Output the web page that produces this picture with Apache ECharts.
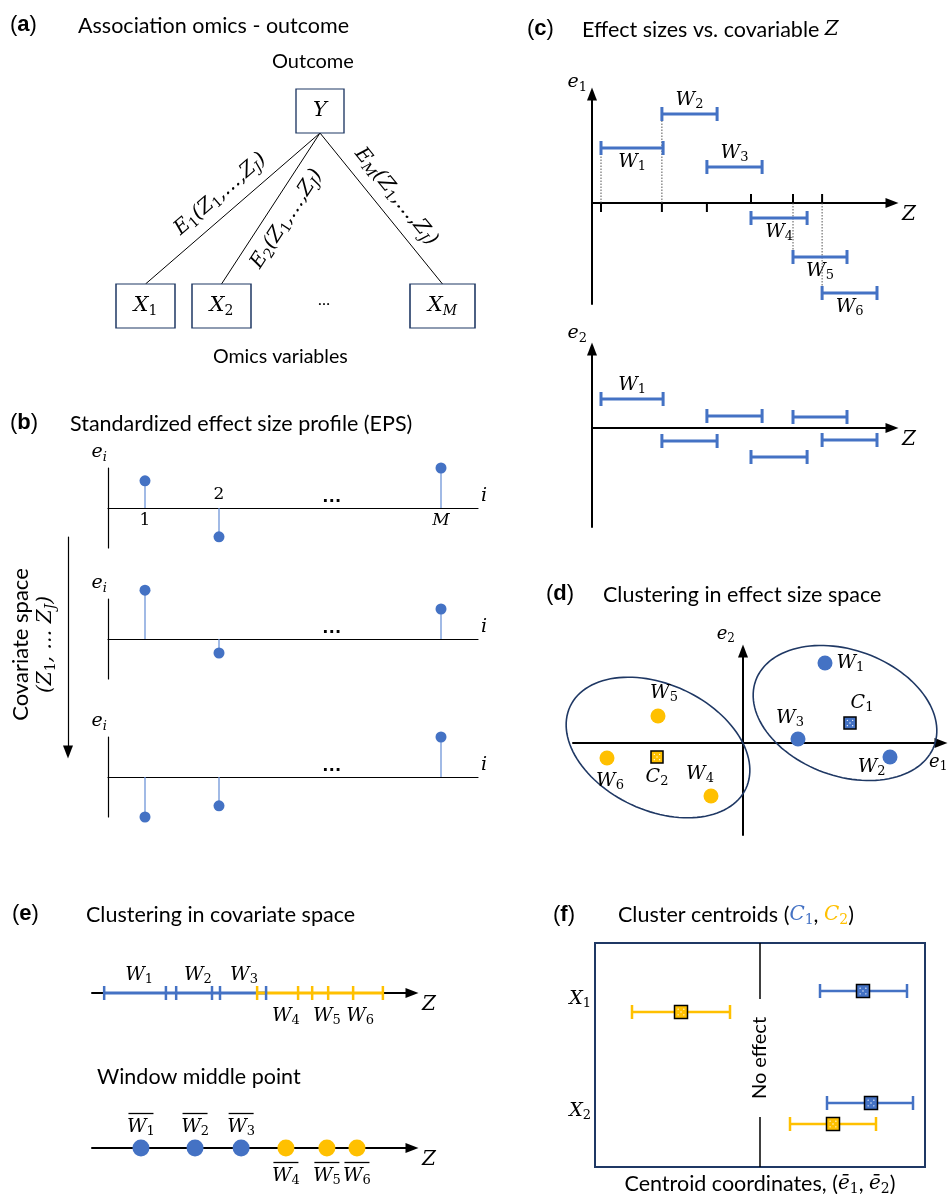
<!DOCTYPE html>
<html>
<head>
<meta charset="utf-8">
<title>EPS clustering schematic</title>
<script src="https://cdn.jsdelivr.net/npm/echarts@6/dist/echarts.min.js"></script>
<style>
  html, body { margin: 0; padding: 0; background: #ffffff; }
  #chart { width: 951px; height: 1194px; }
</style>
</head>
<body>
<div id="chart"></div>
<script>
const BLUE = '#4472C4';
const STEM = '#6F95D8';
const YELLOW = '#FFC000';
const NAVY = '#1F3864';
const SANS = 'Lato, "Open Sans", sans-serif';
const SERIF = '"DejaVu Serif", serif';
const HEAD = '"Liberation Sans", Arial, sans-serif';
const TITLE_SIZE = 21.5;

// (a) association tree: outcome Y on top, omics variables below (layout units)
const treeNodes = ['Y', 'X1', 'X2', 'XM'];
const treeX = [4.4, 0.91, 2.43, 6.85];
const treeY = [4.38, 0.48, 0.48, 0.48];
const treeEdges = ['E1', 'E2', 'EM'];

// (b) effect size profile e_i at three points of covariate space
const epsIndex = [1, 3, 9];
const epsTicks = ['1', '2', 'M'];
const epsProfile1 = [0.68, -0.72, 1.0];
const epsProfile2 = [1.22, -0.35, 0.75];
const epsProfile3 = [-1.0, -0.72, 1.0];
const epsDotsAt = 6.05;

// (c) sliding windows along Z and their effect sizes
const winNames = ['W1', 'W2', 'W3', 'W4', 'W5', 'W6'];
const winStart = [0.3, 2.33, 3.83, 5.3, 6.7, 7.67];
const winEnd = [2.37, 4.17, 5.67, 7.17, 8.5, 9.5];
const winE1 = [1.1, 1.78, 0.72, -0.3, -1.08, -1.8];
const winE2 = [0.58, -0.26, 0.24, -0.58, 0.22, -0.24];
const winGuide = [1, 1, 0, 0, 1, 1];

// (d) windows in effect size space
const winCluster = [0, 0, 0, 1, 1, 1];
const spaceE1 = [1.64, 2.94, 1.1, -0.64, -1.7, -2.72];
const spaceE2 = [1.6, -0.28, 0.08, -1.06, 0.54, -0.3];
const centroidNames = ['C1', 'C2'];
const centroidE1 = [2.14, -1.72];
const centroidE2 = [0.4, -0.28];
const clusterCx = [2.04, -1.7];
const clusterCy = [0.6, -0.09];
const clusterRx = [1.9, 1.94];
const clusterRy = [1.26, 1.26];
const clusterTilt = [-20, -25];

// (e) windows on the covariate axis
const zTicksC1 = [0.38, 2.31, 2.63, 3.75, 4.0, 5.44];
const zTicksC2 = [5.16, 6.44, 6.88, 7.38, 8.16, 9.09];
const zLabelAt = [1.47, 3.31, 4.75, 6.06, 7.34, 8.38];
const zMiddle = [1.53, 3.22, 4.66, 6.06, 7.34, 8.28];

// (f) cluster centroids per omics variable
const centroidRows = ['X1', 'X2'];
const c1Mean = [2.06, 2.22];
const c1Low = [1.2, 1.34];
const c1High = [2.94, 3.06];
const c2Mean = [-1.58, 1.46];
const c2Low = [-2.56, 0.6];
const c2High = [-0.6, 2.32];

// rich text styles for math symbols with subscripts
function mathRich(size, color, textSize) {
  const c = color || '#000';
  const s = Math.round(size * 0.68);
  const ts = textSize || size;
  return {
    m: { fontFamily: SERIF, fontStyle: 'italic', fontSize: size, color: c, lineHeight: size + 4 },
    r: { fontFamily: SERIF, fontSize: size, color: c, lineHeight: size + 4 },
    s: { fontFamily: SERIF, fontSize: s, color: c, lineHeight: s, verticalAlign: 'bottom' },
    si: { fontFamily: SERIF, fontStyle: 'italic', fontSize: s, color: c, lineHeight: s, verticalAlign: 'bottom' },
    t: { fontFamily: SANS, fontSize: ts, color: c, lineHeight: ts + 4 },
    bar: { width: Math.round(size * 1.3), height: 1.3, fontSize: 1, lineHeight: 4, backgroundColor: c }
  };
}
// 'W1' -> W with subscript 1, 'XM' -> X with italic subscript M
function sym(name) {
  const base = name[0], sub = name.slice(1);
  if (!sub) return '{m|' + base + '}';
  return '{m|' + base + '}{' + (/\d/.test(sub) ? 's' : 'si') + '|' + sub + '}';
}
function edgeText(name) {
  return sym(name) + '{m|(Z}{s|1}{m|,…,Z}{si|J}{m|)}';
}

function axis(gridIndex, min, max, extra) {
  return Object.assign({
    type: 'value', gridIndex: gridIndex, min: min, max: max,
    axisLine: { show: false }, axisTick: { show: false },
    axisLabel: { show: false }, splitLine: { show: false }
  }, extra || {});
}
function arrowLine(width) {
  return { show: true, onZero: true, symbol: ['none', 'triangle'], symbolSize: [10, 13],
    lineStyle: { color: '#000', width: width } };
}
const plainLine = { show: true, onZero: true, lineStyle: { color: '#000', width: 1.2 } };
const hidden = { symbolSize: 1, itemStyle: { color: 'rgba(0,0,0,0)', opacity: 1 }, silent: true };

const grids = [
  { left: 100, top: 80, width: 400, height: 250 },   // 0 (a)
  { left: 108, top: 468, width: 370, height: 80 },   // 1 (b) profile 1
  { left: 108, top: 599, width: 370, height: 80 },   // 2 (b) profile 2
  { left: 108, top: 737, width: 370, height: 80 },   // 3 (b) profile 3
  { left: 68, top: 537, width: 1, height: 215 },     // 4 covariate arrow
  { left: 592, top: 94, width: 300, height: 210 },   // 5 (c) e1
  { left: 592, top: 349, width: 300, height: 178 },  // 6 (c) e2
  { left: 573, top: 651, width: 368, height: 184 },  // 7 (d)
  { left: 92, top: 960, width: 320, height: 66 },    // 8 (e) windows
  { left: 92, top: 1115, width: 320, height: 66 },   // 9 (e) middle points
  { left: 595, top: 943, width: 330, height: 224, show: true, borderColor: NAVY, borderWidth: 2 } // 10 (f)
];
grids.forEach(g => { g.outerBoundsMode = 'none'; });

const zName = { name: '{m|Z}', nameGap: 10, nameTextStyle: { rich: mathRich(20), verticalAlign: 'top' } };
const iName = { name: '{m|i}', nameGap: 3, nameTextStyle: { rich: mathRich(19), verticalAlign: 'bottom' } };
const eiName = { name: sym('ei'), nameGap: 4, nameTextStyle: { rich: mathRich(19), align: 'right', padding: [0, 1, 0, 0] } };

const xAxes = [
  axis(0, 0, 8),
  axis(1, 0, 10, Object.assign({ axisLine: plainLine }, iName)),
  axis(2, 0, 10, Object.assign({ axisLine: plainLine }, iName)),
  axis(3, 0, 10, Object.assign({ axisLine: plainLine }, iName)),
  axis(4, 0, 1),
  axis(5, 0, 10, Object.assign({ axisLine: arrowLine(2) }, zName)),
  axis(6, 0, 10, Object.assign({ axisLine: arrowLine(2) }, zName)),
  axis(7, -3.4, 3.96, { axisLine: arrowLine(2), name: sym('e1'), nameGap: -12,
    nameTextStyle: { rich: mathRich(18), verticalAlign: 'top', padding: [8, 0, 0, 0] } }),
  axis(8, 0, 10, Object.assign({ axisLine: arrowLine(2) }, zName)),
  axis(9, 0, 10, Object.assign({ axisLine: arrowLine(2) }, zName)),
  axis(10, -3.3, 3.3, { name: '{t|Centroid coordinates, (}{m|ē}{s|1}{t|, }{m|ē}{s|2}{t|)}',
    nameLocation: 'middle', nameGap: 4, nameTextStyle: { rich: mathRich(20, '#000', TITLE_SIZE) } })
];

const yAxes = [
  axis(0, 0, 5),
  axis(1, -1, 1, Object.assign({ axisLine: plainLine }, eiName)),
  axis(2, -1, 1, Object.assign({ axisLine: plainLine }, eiName)),
  axis(3, -1, 1, Object.assign({ axisLine: plainLine }, eiName)),
  axis(4, 0, 1, { axisLine: { show: true, symbol: ['triangle', 'none'], symbolSize: [10, 13],
      lineStyle: { color: '#000', width: 1.2 } },
    name: '{t|Covariate space}\n{m|(Z}{s|1}{m|, … Z}{si|J}{m|)}', nameLocation: 'middle',
    nameRotate: 90, nameGap: 10, nameTextStyle: { rich: mathRich(20, '#000', 22) } }),
  axis(5, -2.02, 2.18, { axisLine: arrowLine(2), name: sym('e1'), nameGap: 0,
    nameTextStyle: { rich: mathRich(19), align: 'right', padding: [0, 5, 0, 0] } }),
  axis(6, -1.98, 1.58, { axisLine: arrowLine(2), name: sym('e2'), nameGap: 4,
    nameTextStyle: { rich: mathRich(19), align: 'right', padding: [0, 5, 0, 0] } }),
  axis(7, -1.84, 1.84, { axisLine: arrowLine(2), name: sym('e2'), nameGap: 6,
    nameTextStyle: { rich: mathRich(18), align: 'right', padding: [0, 8, 0, 0] } }),
  axis(8, -1, 1),
  axis(9, -1, 1),
  { type: 'category', gridIndex: 10, data: centroidRows, inverse: true,
    axisLine: { show: false }, axisTick: { show: false }, splitLine: { show: false },
    axisLabel: { formatter: v => sym(v), rich: mathRich(19), margin: 4 } }
];

function squareShapes(cx, cy, size, fill) {
  const h = size / 2;
  const kids = [{ type: 'rect', shape: { x: cx - h, y: cy - h, width: size, height: size },
    style: { fill: fill, stroke: '#000', lineWidth: 1.5 } }];
  [[-0.22, -0.22], [0.22, -0.22], [-0.22, 0.22], [0.22, 0.22], [0, 0]].forEach(d => {
    kids.push({ type: 'circle', shape: { cx: cx + d[0] * size, cy: cy + d[1] * size, r: 0.7 },
      style: { fill: '#ffffff' } });
  });
  return kids;
}

function intervalRender(color, width, cap) {
  return function (params, api) {
    const y = api.value(2);
    const a = api.coord([api.value(0), y]);
    const b = api.coord([api.value(1), y]);
    return { type: 'group', children: [
      { type: 'line', shape: { x1: a[0], y1: a[1], x2: b[0], y2: b[1] }, style: { stroke: color, lineWidth: width } },
      { type: 'line', shape: { x1: a[0], y1: a[1] - cap, x2: a[0], y2: a[1] + cap }, style: { stroke: color, lineWidth: width } },
      { type: 'line', shape: { x1: b[0], y1: b[1] - cap, x2: b[0], y2: b[1] + cap }, style: { stroke: color, lineWidth: width } }
    ] };
  };
}

function stemRender(params, api) {
  const base = api.coord([api.value(0), 0]);
  const tip = api.coord([api.value(0), api.value(1)]);
  return { type: 'group', children: [
    { type: 'line', shape: { x1: base[0], y1: base[1], x2: tip[0], y2: tip[1] }, style: { stroke: STEM, lineWidth: 1.3 } },
    { type: 'circle', shape: { cx: tip[0], cy: tip[1], r: 5.5 }, style: { fill: BLUE } }
  ] };
}

function ellipseRender(params, api) {
  const c = api.coord([api.value(0), api.value(1)]);
  const r = api.size([api.value(2), api.value(3)]);
  const t = api.value(4) * Math.PI / 180;
  const pts = [];
  for (let k = 0; k < 120; k++) {
    const a = k / 120 * 2 * Math.PI;
    const ex = r[0] * Math.cos(a), ey = r[1] * Math.sin(a);
    pts.push([c[0] + ex * Math.cos(t) - ey * Math.sin(t), c[1] - ex * Math.sin(t) - ey * Math.cos(t)]);
  }
  return { type: 'polygon', shape: { points: pts }, style: { fill: 'none', stroke: NAVY, lineWidth: 1.6 } };
}

function errorRender(color, shift) {
  return function (params, api) {
    const row = api.value(3);
    const m = api.coord([api.value(0), row]);
    const lo = api.coord([api.value(1), row]);
    const hi = api.coord([api.value(2), row]);
    const y = m[1] + shift;
    return { type: 'group', children: [
      { type: 'line', shape: { x1: lo[0], y1: y, x2: hi[0], y2: y }, style: { stroke: color, lineWidth: 2.5 } },
      { type: 'line', shape: { x1: lo[0], y1: y - 7, x2: lo[0], y2: y + 7 }, style: { stroke: color, lineWidth: 2.5 } },
      { type: 'line', shape: { x1: hi[0], y1: y - 7, x2: hi[0], y2: y + 7 }, style: { stroke: color, lineWidth: 2.5 } }
    ].concat(squareShapes(m[0], y, 13, color)) };
  };
}

const series = [];

// ---- (a) ----
series.push({
  type: 'lines', coordinateSystem: 'cartesian2d', xAxisIndex: 0, yAxisIndex: 0, z: 2, silent: true,
  lineStyle: { color: '#000', width: 1, opacity: 1, curveness: 0 },
  label: { show: true, distance: 7, fontSize: 20, rich: mathRich(20), formatter: p => edgeText(p.name) },
  data: treeEdges.map((name, i) => ({
    name: name,
    coords: [[treeX[0], treeY[0] - 0.44], [treeX[i + 1], treeY[i + 1] + 0.44]],
    label: { position: i === 1 ? 'insideMiddleBottom' : 'insideMiddleTop' }
  }))
});
series.push({
  type: 'scatter', xAxisIndex: 0, yAxisIndex: 0, z: 3, symbol: 'rect', silent: true,
  itemStyle: { color: '#fff', borderColor: NAVY, borderWidth: 1.3, opacity: 1 },
  label: { show: true, position: 'inside', rich: mathRich(21), formatter: p => sym(p.name) },
  data: treeNodes.map((n, i) => ({ name: n, value: [treeX[i], treeY[i]],
    symbolSize: i === 0 ? [48, 44] : [n === 'XM' ? 65 : 59, 44] }))
});

// ---- (b) ----
[epsProfile1, epsProfile2, epsProfile3].forEach((prof, k) => {
  series.push({ type: 'custom', xAxisIndex: k + 1, yAxisIndex: k + 1, silent: true,
    renderItem: stemRender, data: epsIndex.map((x, i) => [x, prof[i]]) });
  series.push(Object.assign({ type: 'scatter', xAxisIndex: k + 1, yAxisIndex: k + 1, data: [[epsDotsAt, 0]],
    label: { show: true, position: 'top', distance: 1, formatter: '…', fontFamily: HEAD,
      fontWeight: 'bold', fontSize: 20, color: '#000' } }, hidden));
});
series.push(Object.assign({ type: 'scatter', xAxisIndex: 1, yAxisIndex: 1,
  data: epsIndex.map((x, i) => ({ value: [x, 0], name: epsTicks[i],
    label: { position: epsProfile1[i] > 0 ? 'bottom' : 'top' } })),
  label: { show: true, distance: 2, rich: mathRich(17),
    formatter: p => /\d/.test(p.name) ? '{r|' + p.name + '}' : '{m|' + p.name + '}' } }, hidden));

// ---- (c) ----
const sideC = ['bottom', 'top', 'top', 'bottom', 'bottom', 'bottom'];
series.push({ type: 'custom', xAxisIndex: 5, yAxisIndex: 5, silent: true, z: 1,
  renderItem: (params, api) => {
    const a = api.coord([api.value(0), 0]);
    const b = api.coord([api.value(0), api.value(1)]);
    return { type: 'line', shape: { x1: a[0], y1: a[1], x2: b[0], y2: b[1] },
      style: { stroke: '#555', lineWidth: 1, lineDash: [1.5, 1.5] } };
  },
  data: winStart.map((s, i) => [s, winE1[i]]).filter((d, i) => winGuide[i]) });
series.push({ type: 'custom', xAxisIndex: 5, yAxisIndex: 5, silent: true,
  renderItem: (params, api) => {
    const p = api.coord([api.value(0), 0]);
    const dir = api.value(1) > 0 ? 1 : -1;
    return { type: 'line', shape: { x1: p[0], y1: p[1], x2: p[0], y2: p[1] + dir * 9 },
      style: { stroke: '#000', lineWidth: 2 } };
  },
  data: winStart.map((s, i) => [s, winE1[i]]) });
series.push({ type: 'custom', xAxisIndex: 5, yAxisIndex: 5, silent: true,
  renderItem: intervalRender(BLUE, 3, 7), data: winStart.map((s, i) => [s, winEnd[i], winE1[i]]) });
series.push(Object.assign({ type: 'scatter', xAxisIndex: 5, yAxisIndex: 5,
  data: winNames.map((n, i) => ({ name: n, value: [(winStart[i] + winEnd[i]) / 2, winE1[i]],
    label: { position: sideC[i] } })),
  label: { show: true, distance: 2, rich: mathRich(19), formatter: p => sym(p.name) } }, hidden));

series.push({ type: 'custom', xAxisIndex: 6, yAxisIndex: 6, silent: true,
  renderItem: intervalRender(BLUE, 3, 7), data: winStart.map((s, i) => [s, winEnd[i], winE2[i]]) });
series.push(Object.assign({ type: 'scatter', xAxisIndex: 6, yAxisIndex: 6,
  data: [{ name: winNames[0], value: [(winStart[0] + winEnd[0]) / 2, winE2[0]] }],
  label: { show: true, position: 'top', distance: 2, rich: mathRich(19), formatter: p => sym(p.name) } }, hidden));

// ---- (d) ----
const sideD = [
  { position: 'right', distance: 4 },
  { position: 'left', distance: -3, offset: [0, 10] },
  { position: 'top', offset: [-8, 2] },
  { position: 'top', offset: [-11, 1] },
  { position: 'top', offset: [6, 0] },
  { position: 'bottom', offset: [3, 0] }
];
series.push({ type: 'custom', xAxisIndex: 7, yAxisIndex: 7, silent: true, renderItem: ellipseRender,
  data: clusterCx.map((cx, i) => [cx, clusterCy[i], clusterRx[i], clusterRy[i], clusterTilt[i]]) });
series.push({ type: 'scatter', xAxisIndex: 7, yAxisIndex: 7, symbolSize: 15, silent: true, z: 4,
  data: winNames.map((n, i) => ({ name: n, value: [spaceE1[i], spaceE2[i]],
    itemStyle: { color: winCluster[i] ? YELLOW : BLUE, opacity: 1 }, label: sideD[i] })),
  label: { show: true, distance: 4, rich: mathRich(19), formatter: p => sym(p.name) } });
series.push({ type: 'custom', xAxisIndex: 7, yAxisIndex: 7, silent: true, z: 4,
  renderItem: (params, api) => {
    const p = api.coord([api.value(0), api.value(1)]);
    return { type: 'group', children: squareShapes(p[0], p[1], 12, api.value(2) ? YELLOW : BLUE) };
  },
  data: centroidE1.map((x, i) => [x, centroidE2[i], i]) });
series.push(Object.assign({ type: 'scatter', xAxisIndex: 7, yAxisIndex: 7,
  data: centroidNames.map((n, i) => ({ name: n, value: [centroidE1[i], centroidE2[i]],
    label: i === 0 ? { position: 'top', offset: [12, 0] } : { position: 'bottom' } })),
  label: { show: true, distance: 8, rich: mathRich(19), formatter: p => sym(p.name) } }, hidden));

// ---- (e) ----
[zTicksC1, zTicksC2].forEach((ticks, k) => {
  const color = k ? YELLOW : BLUE;
  series.push({ type: 'line', xAxisIndex: 8, yAxisIndex: 8, z: 3 + k, showSymbol: false, silent: true,
    lineStyle: { color: color, width: 3 }, data: [[ticks[0], 0], [ticks[ticks.length - 1], 0]] });
  series.push({ type: 'custom', xAxisIndex: 8, yAxisIndex: 8, z: 5 + k, silent: true,
    renderItem: (params, api) => {
      const p = api.coord([api.value(0), 0]);
      return { type: 'line', shape: { x1: p[0], y1: p[1] - 7, x2: p[0], y2: p[1] + 7 },
        style: { stroke: color, lineWidth: 2.5 } };
    },
    data: ticks.map(t => [t, 0]) });
});
series.push(Object.assign({ type: 'scatter', xAxisIndex: 8, yAxisIndex: 8,
  data: winNames.map((n, i) => ({ name: n, value: [zLabelAt[i], 0],
    label: winCluster[i] ? { position: 'bottom', distance: 11 } : { position: 'top', distance: 6 } })),
  label: { show: true, rich: mathRich(19), formatter: p => sym(p.name) } }, hidden));
series.push({ type: 'scatter', xAxisIndex: 9, yAxisIndex: 9, symbolSize: 17, silent: true, z: 4,
  data: winNames.map((n, i) => ({ name: n, value: [zMiddle[i], 0],
    itemStyle: { color: winCluster[i] ? YELLOW : BLUE, opacity: 1 },
    label: winCluster[i] ? { position: 'bottom', distance: 4 } : { position: 'top', distance: 1 } })),
  label: { show: true, rich: mathRich(19), formatter: p => '{bar|}\n' + sym(p.name) } });

// ---- (f) ----
series.push({ type: 'custom', xAxisIndex: 10, yAxisIndex: 10, silent: true, encode: { x: 0, y: 1 },
  renderItem: (params, api) => {
    const cs = params.coordSys;
    const x = api.coord([api.value(0), 0])[0];
    const yTop = api.coord([0, 0])[1];
    const yBot = api.coord([0, 1])[1] + 6;
    return { type: 'group', children: [
      { type: 'line', shape: { x1: x, y1: cs.y, x2: x, y2: yTop }, style: { stroke: '#000', lineWidth: 1.5 } },
      { type: 'line', shape: { x1: x, y1: yBot, x2: x, y2: cs.y + cs.height }, style: { stroke: '#000', lineWidth: 1.5 } },
      { type: 'text', x: x, y: (yTop + yBot) / 2, rotation: Math.PI / 2,
        style: { text: 'No effect', fontFamily: 'Lato', fontSize: 20, fill: '#000', align: 'center', verticalAlign: 'middle' } }
    ] };
  },
  data: [[0, 0]] });
series.push({ type: 'custom', xAxisIndex: 10, yAxisIndex: 10, silent: true, encode: { x: [0, 1, 2], y: 3 },
  renderItem: errorRender(BLUE, -8), data: centroidRows.map((r, i) => [c1Mean[i], c1Low[i], c1High[i], i]) });
series.push({ type: 'custom', xAxisIndex: 10, yAxisIndex: 10, silent: true, encode: { x: [0, 1, 2], y: 3 },
  renderItem: errorRender(YELLOW, 13), data: centroidRows.map((r, i) => [c2Mean[i], c2Low[i], c2High[i], i]) });

// ---- headings and notes ----
function head(letter, left, top) {
  return { text: '{p|(}{b|' + letter + '}{p|)}', left: left, top: top, padding: 0,
    textStyle: { fontWeight: 'normal', rich: {
      p: { fontFamily: HEAD, fontSize: 22, color: '#000', lineHeight: 24 },
      b: { fontFamily: HEAD, fontSize: 22, fontWeight: 'bold', color: '#000', lineHeight: 24 } } } };
}
function note(text, left, top, size) {
  return { text: text, left: left, top: top, padding: 0,
    textStyle: { fontWeight: 'normal', rich: mathRich(20, '#000', size || TITLE_SIZE) } };
}
const fRich = mathRich(20, '#000', TITLE_SIZE);
fRich.cb = Object.assign({}, fRich.m, { color: BLUE });
fRich.sb = Object.assign({}, fRich.s, { color: BLUE });
fRich.cy = Object.assign({}, fRich.m, { color: YELLOW });
fRich.sy = Object.assign({}, fRich.s, { color: YELLOW });

const titles = [
  head('a', 10, 13), note('{t|Association omics - outcome}', 78, 13),
  note('{t|Outcome}', 272, 50, 20), note('{t|…}', 318, 290, 16),
  note('{t|Omics variables}', 213, 345, 19.6),
  head('b', 10, 411), note('{t|Standardized effect size profile (EPS)}', 70, 411),
  head('c', 527, 17), note('{t|Effect sizes vs. covariable }{m|Z}', 582, 17),
  head('d', 546, 582), note('{t|Clustering in effect size space}', 603, 582),
  head('e', 12, 902), note('{t|Clustering in covariate space}', 86, 902),
  note('{t|Window middle point}', 97, 1064),
  head('f', 553, 903),
  { text: '{t|Cluster centroids (}{cb|C}{sb|1}{t|, }{cy|C}{sy|2}{t|)}', left: 618, top: 902, padding: 0,
    textStyle: { fontWeight: 'normal', rich: fRich } }
];

const chart = echarts.init(document.getElementById('chart'));
chart.setOption({
  animation: false,
  backgroundColor: '#ffffff',
  title: titles,
  grid: grids,
  xAxis: xAxes,
  yAxis: yAxes,
  series: series
});
</script>
</body>
</html>
